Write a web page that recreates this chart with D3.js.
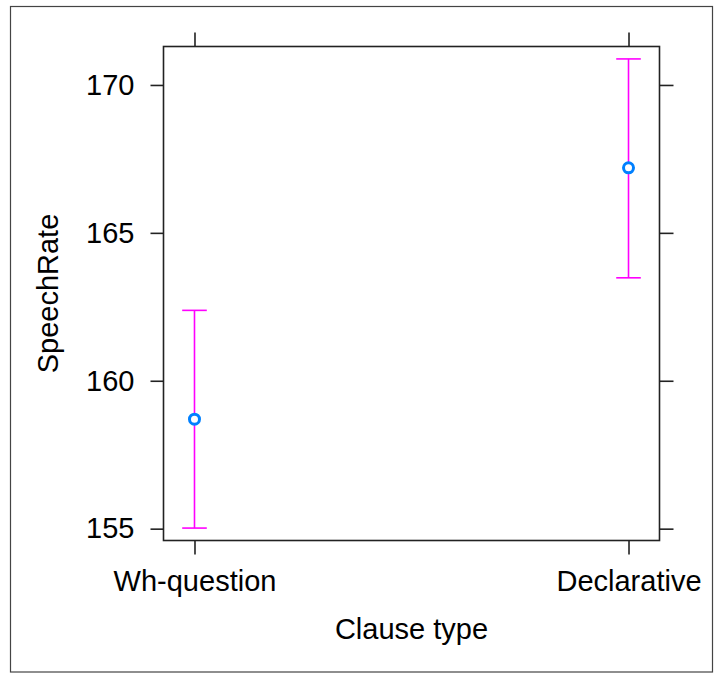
<!DOCTYPE html>
<html>
<head>
<meta charset="utf-8">
<script src="https://cdn.jsdelivr.net/npm/d3@7"></script>
<style>
  html, body { margin: 0; padding: 0; background: #fff; }
  svg { display: block; }
  text { font-family: "Liberation Sans", Arial, sans-serif; fill: #000; }
</style>
</head>
<body>
<script>
// Fitted speech rate by clause type, with confidence limits
const categories = ["Wh-question", "Declarative"];
const fitValues = [158.70, 167.20];
const lowerValues = [155.02, 163.48];
const upperValues = [162.38, 170.88];
const yTicks = [155, 160, 165, 170];
const xTitle = "Clause type";
const yTitle = "SpeechRate";

const W = 718, H = 673;
const panel = { left: 163.5, right: 659.5, top: 46.5, bottom: 540.5 };
const fontSize = 29;

const svg = d3.select("body").append("svg")
  .attr("width", W).attr("height", H);

// Outer frame
svg.append("rect")
  .attr("x", 10.5).attr("y", 6.5)
  .attr("width", 702).attr("height", 665.5)
  .attr("fill", "none").attr("stroke", "#444").attr("stroke-width", 1.2);

const x = d3.scalePoint()
  .domain(categories)
  .range([panel.left, panel.right])
  .padding(0.0714);

const y = d3.scaleLinear()
  .domain([154.60, 171.30])
  .range([panel.bottom, panel.top]);

const tickStroke = "#222";
const tickWidth = 1.6;

function styleAxis(g, showText) {
  g.select(".domain").remove();
  g.selectAll(".tick line").attr("stroke", tickStroke).attr("stroke-width", tickWidth);
  g.selectAll(".tick text")
    .style("font-size", fontSize + "px")
    .style("font-family", "'Liberation Sans', Arial, sans-serif")
    .attr("fill", "#000");
  if (!showText) g.selectAll(".tick text").remove();
}

// Left axis with labels
svg.append("g")
  .attr("transform", `translate(${panel.left},0)`)
  .call(d3.axisLeft(y).tickValues(yTicks).tickSize(13).tickPadding(16).tickFormat(d3.format("d")))
  .call(g => styleAxis(g, true));

// Right axis ticks only
svg.append("g")
  .attr("transform", `translate(${panel.right},0)`)
  .call(d3.axisRight(y).tickValues(yTicks).tickSize(14))
  .call(g => styleAxis(g, false));

// Bottom axis with category labels
svg.append("g")
  .attr("transform", `translate(0,${panel.bottom})`)
  .call(d3.axisBottom(x).tickSize(14).tickPadding(16))
  .call(g => styleAxis(g, true));

// Top axis ticks only
svg.append("g")
  .attr("transform", `translate(0,${panel.top})`)
  .call(d3.axisTop(x).tickSize(14))
  .call(g => styleAxis(g, false));

// Panel border
svg.append("rect")
  .attr("x", panel.left).attr("y", panel.top)
  .attr("width", panel.right - panel.left).attr("height", panel.bottom - panel.top)
  .attr("fill", "none").attr("stroke", tickStroke).attr("stroke-width", tickWidth);

// Error bars
const rows = categories.map((c, i) => ({ c, fit: fitValues[i], lo: lowerValues[i], hi: upperValues[i] }));
const capHalf = 12.3;
const barColor = "#ff00ff";

const bars = svg.append("g").attr("stroke", barColor).attr("stroke-width", 1.6);
bars.selectAll("line.stem").data(rows).join("line")
  .attr("class", "stem")
  .attr("x1", d => x(d.c)).attr("x2", d => x(d.c))
  .attr("y1", d => y(d.lo)).attr("y2", d => y(d.hi));
bars.selectAll("line.capHi").data(rows).join("line")
  .attr("class", "capHi")
  .attr("x1", d => x(d.c) - capHalf).attr("x2", d => x(d.c) + capHalf)
  .attr("y1", d => y(d.hi)).attr("y2", d => y(d.hi));
bars.selectAll("line.capLo").data(rows).join("line")
  .attr("class", "capLo")
  .attr("x1", d => x(d.c) - capHalf).attr("x2", d => x(d.c) + capHalf)
  .attr("y1", d => y(d.lo)).attr("y2", d => y(d.lo));

// Fitted points
svg.append("g").selectAll("circle").data(rows).join("circle")
  .attr("cx", d => x(d.c)).attr("cy", d => y(d.fit))
  .attr("r", 5)
  .attr("fill", "#fff")
  .attr("stroke", "#0080ff")
  .attr("stroke-width", 3);

// Axis titles
svg.append("text")
  .attr("x", (panel.left + panel.right) / 2)
  .attr("y", 639)
  .attr("text-anchor", "middle")
  .style("font-size", fontSize + "px")
  .text(xTitle);

svg.append("text")
  .attr("transform", `translate(58,${(panel.top + panel.bottom) / 2}) rotate(-90)`)
  .attr("text-anchor", "middle")
  .style("font-size", fontSize + "px")
  .text(yTitle);
</script>
</body>
</html>
